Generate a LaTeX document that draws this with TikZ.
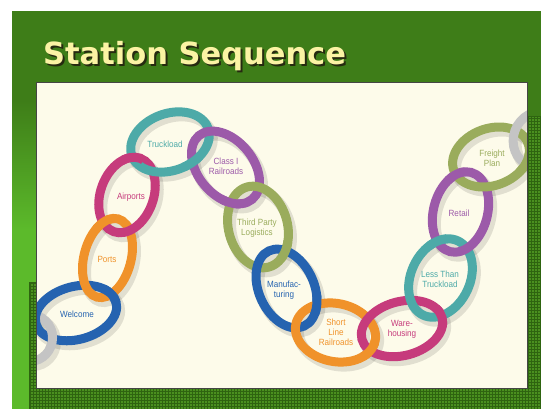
\documentclass[tikz,border=0pt]{standalone}
\usepackage{fontspec}
\usepackage{tikz}
\usetikzlibrary{intersections, patterns}
\newfontfamily\titlefont{DejaVu Sans}
\newfontfamily\linkfont[FakeStretch=0.9]{Liberation Sans}

\definecolor{slidegreen}{HTML}{3E7D18}
\definecolor{slidelime}{HTML}{5CBA2B}
\definecolor{slidetexture}{HTML}{4A901F}
\definecolor{slideedge}{HTML}{2E6410}
\definecolor{panelcream}{HTML}{FDFBEA}
\definecolor{panelborder}{HTML}{454545}
\definecolor{titleyellow}{HTML}{FBF3A4}
\definecolor{titleshadow}{HTML}{262A10}
\definecolor{linkblue}{HTML}{2563B0}
\definecolor{linkorange}{HTML}{F0922A}
\definecolor{linkmagenta}{HTML}{C63B7C}
\definecolor{linkteal}{HTML}{4DAAA8}
\definecolor{linkpurple}{HTML}{9C5AA9}
\definecolor{linkolive}{HTML}{9AAC5C}
\definecolor{linkgray}{HTML}{C4C4C4}

\begin{document}
\begin{tikzpicture}[x=1pt, y=-1pt,
    link/.style={line width=9pt},
    linkshade/.style={line width=11pt, black, opacity=0.11, shift={(3,4)}},
    linklabel/.style={font=\linkfont\fontsize{9}{10}\selectfont, align=center, inner sep=0pt},
    titletext/.style={font=\titlefont\bfseries\fontsize{30.5}{36}\selectfont, anchor=base west, inner sep=0pt}]
  \useasboundingbox (0,0) rectangle (541,409);

  % slide background
  \fill[white] (0,0) rectangle (541,409);
  \fill[slidegreen] (12,11) rectangle (541,409);
  \shade[top color=slidegreen, bottom color=slidelime] (12,100) rectangle (37,230);
  \fill[slidelime] (12,230) rectangle (37,409);

  % textured strips
  \fill[slidetexture] (30,283) rectangle (541,409);
  \fill[slidetexture] (527,117) rectangle (541,409);
  \fill[pattern=grid, pattern color=slideedge, fill opacity=0.22] (30,283) rectangle (541,409);
  \fill[pattern=grid, pattern color=slideedge, fill opacity=0.22] (527,117) rectangle (541,283);
  \draw[slideedge, line width=1.5pt] (30,409) -- (30,283) -- (40,283);
  \draw[slideedge, line width=1pt] (527,117) -- (541,117);

  % title with its drop shadow
  \node[titletext] (title) at (43,65)
    {\makebox[0pt][l]{\hspace{2pt}\raisebox{-2pt}{\textcolor{titleshadow}{Station Sequence}}}\textcolor{titleyellow}{Station Sequence}};

  % panel
  \fill[panelcream] (36.5,82.5) rectangle (527.5,388.5);

  \begin{scope}
    \clip (36.5,82.5) rectangle (527.5,388.5);

    % shadows of the links
    \draw[linkshade, rotate around={-10:(30,338)}] (30,338) ellipse [x radius=22.5, y radius=23.5];
    \draw[linkshade, rotate around={15:(76,313)}] (76,313) ellipse [x radius=41.5, y radius=26.5];
    \draw[linkshade, rotate around={-15:(107.5,258)}] (107.5,258) ellipse [x radius=23.5, y radius=40.5];
    \draw[linkshade, rotate around={-20:(127,195)}] (127,195) ellipse [x radius=26.5, y radius=39];
    \draw[linkshade, rotate around={20:(170,142)}] (170,142) ellipse [x radius=40.5, y radius=28.5];
    \draw[linkshade, rotate around={-50:(225.5,167.5)}] (225.5,167.5) ellipse [x radius=41.5, y radius=27.5];
    \draw[linkshade, rotate around={15:(258,227)}] (258,227) ellipse [x radius=29.5, y radius=41.5];
    \draw[linkshade, rotate around={25:(286.5,288.5)}] (286.5,288.5) ellipse [x radius=27.5, y radius=41.5];
    \draw[linkshade, rotate around={-12:(335.5,332.5)}] (335.5,332.5) ellipse [x radius=40.5, y radius=29];
    \draw[linkshade, rotate around={15:(402,328.5)}] (402,328.5) ellipse [x radius=41.5, y radius=27];
    \draw[linkshade, rotate around={-25:(440.5,278)}] (440.5,278) ellipse [x radius=29.5, y radius=41];
    \draw[linkshade, rotate around={-15:(460.5,212)}] (460.5,212) ellipse [x radius=27, y radius=41];
    \draw[linkshade, rotate around={20:(491,157)}] (491,157) ellipse [x radius=39.5, y radius=28.5];
    \draw[linkshade, rotate around={-20:(538,139)}] (538,139) ellipse [x radius=24.5, y radius=27.5];

    % links of the chain
    \draw[link, linkgray, rotate around={-10:(30,338)}, name path global=grayone] (30,338) ellipse [x radius=22.5, y radius=23.5];
    \draw[link, linkblue, rotate around={15:(76,313)}, name path global=welcome] (76,313) ellipse [x radius=41.5, y radius=26.5];
    \draw[link, linkorange, rotate around={-15:(107.5,258)}, name path global=ports] (107.5,258) ellipse [x radius=23.5, y radius=40.5];
    \draw[link, linkmagenta, rotate around={-20:(127,195)}, name path global=airports] (127,195) ellipse [x radius=26.5, y radius=39];
    \draw[link, linkteal, rotate around={20:(170,142)}, name path global=truckload] (170,142) ellipse [x radius=40.5, y radius=28.5];
    \draw[link, linkpurple, rotate around={-50:(225.5,167.5)}, name path global=classone] (225.5,167.5) ellipse [x radius=41.5, y radius=27.5];
    \draw[link, linkolive, rotate around={15:(258,227)}, name path global=thirdparty] (258,227) ellipse [x radius=29.5, y radius=41.5];
    \draw[link, linkblue, rotate around={25:(286.5,288.5)}, name path global=manufacturing] (286.5,288.5) ellipse [x radius=27.5, y radius=41.5];
    \draw[link, linkorange, rotate around={-12:(335.5,332.5)}, name path global=shortline] (335.5,332.5) ellipse [x radius=40.5, y radius=29];
    \draw[link, linkmagenta, rotate around={15:(402,328.5)}, name path global=warehousing] (402,328.5) ellipse [x radius=41.5, y radius=27];
    \draw[link, linkteal, rotate around={-25:(440.5,278)}, name path global=lessthan] (440.5,278) ellipse [x radius=29.5, y radius=41];
    \draw[link, linkpurple, rotate around={-15:(460.5,212)}, name path global=retail] (460.5,212) ellipse [x radius=27, y radius=41];
    \draw[link, linkolive, rotate around={20:(491,157)}, name path global=freight] (491,157) ellipse [x radius=39.5, y radius=28.5];
    \draw[link, linkgray, rotate around={-20:(538,139)}, name path global=graytwo] (538,139) ellipse [x radius=24.5, y radius=27.5];

    % interlocking: each link passes over its successor once
    \path[name intersections={of=grayone and welcome, by=gw}];
    \begin{scope}
      \clip (gw) circle (11);
      \draw[link, linkgray, rotate around={-10:(30,338)}] (30,338) ellipse [x radius=22.5, y radius=23.5];
    \end{scope}
    \path[name intersections={of=welcome and ports, by=wp}];
    \begin{scope}
      \clip (wp) circle (11);
      \draw[link, linkblue, rotate around={15:(76,313)}] (76,313) ellipse [x radius=41.5, y radius=26.5];
    \end{scope}
    \path[name intersections={of=ports and airports, by=pa}];
    \begin{scope}
      \clip (pa) circle (11);
      \draw[link, linkorange, rotate around={-15:(107.5,258)}] (107.5,258) ellipse [x radius=23.5, y radius=40.5];
    \end{scope}
    \path[name intersections={of=airports and truckload, by=at}];
    \begin{scope}
      \clip (at) circle (11);
      \draw[link, linkmagenta, rotate around={-20:(127,195)}] (127,195) ellipse [x radius=26.5, y radius=39];
    \end{scope}
    \path[name intersections={of=truckload and classone, by=tc}];
    \begin{scope}
      \clip (tc) circle (11);
      \draw[link, linkteal, rotate around={20:(170,142)}] (170,142) ellipse [x radius=40.5, y radius=28.5];
    \end{scope}
    \path[name intersections={of=classone and thirdparty, by=ct}];
    \begin{scope}
      \clip (ct) circle (11);
      \draw[link, linkpurple, rotate around={-50:(225.5,167.5)}] (225.5,167.5) ellipse [x radius=41.5, y radius=27.5];
    \end{scope}
    \path[name intersections={of=thirdparty and manufacturing, by=tm}];
    \begin{scope}
      \clip (tm) circle (11);
      \draw[link, linkolive, rotate around={15:(258,227)}] (258,227) ellipse [x radius=29.5, y radius=41.5];
    \end{scope}
    \path[name intersections={of=manufacturing and shortline, by=ms}];
    \begin{scope}
      \clip (ms) circle (11);
      \draw[link, linkblue, rotate around={25:(286.5,288.5)}] (286.5,288.5) ellipse [x radius=27.5, y radius=41.5];
    \end{scope}
    \path[name intersections={of=shortline and warehousing, by=sw}];
    \begin{scope}
      \clip (sw) circle (11);
      \draw[link, linkorange, rotate around={-12:(335.5,332.5)}] (335.5,332.5) ellipse [x radius=40.5, y radius=29];
    \end{scope}
    \path[name intersections={of=warehousing and lessthan, by=wl}];
    \begin{scope}
      \clip (wl) circle (11);
      \draw[link, linkmagenta, rotate around={15:(402,328.5)}] (402,328.5) ellipse [x radius=41.5, y radius=27];
    \end{scope}
    \path[name intersections={of=lessthan and retail, by=lr}];
    \begin{scope}
      \clip (lr) circle (11);
      \draw[link, linkteal, rotate around={-25:(440.5,278)}] (440.5,278) ellipse [x radius=29.5, y radius=41];
    \end{scope}
    \path[name intersections={of=retail and freight, by=rf}];
    \begin{scope}
      \clip (rf) circle (11);
      \draw[link, linkpurple, rotate around={-15:(460.5,212)}] (460.5,212) ellipse [x radius=27, y radius=41];
    \end{scope}
    \path[name intersections={of=freight and graytwo, by=fg}];
    \begin{scope}
      \clip (fg) circle (11);
      \draw[link, linkolive, rotate around={20:(491,157)}] (491,157) ellipse [x radius=39.5, y radius=28.5];
    \end{scope}
  \end{scope}

  % panel frame
  \draw[panelborder, line width=1.5pt] (36.5,82.5) rectangle (527.5,388.5);

  % station labels
  \node[linklabel, text=linkblue] (welcomelabel) at (77,314) {Welcome};
  \node[linklabel, text=linkorange] (portslabel) at (107,259) {Ports};
  \node[linklabel, text=linkmagenta] (airportslabel) at (131,197) {Airports};
  \node[linklabel, text=linkteal] (truckloadlabel) at (165,144) {Truckload};
  \node[linklabel, text=linkpurple] (classonelabel) at (226,166) {Class I\\Railroads};
  \node[linklabel, text=linkolive] (thirdpartylabel) at (257,228) {Third Party\\Logistics};
  \node[linklabel, text=linkblue] (manufacturinglabel) at (284,290) {Manufac-\\turing};
  \node[linklabel, text=linkorange] (shortlinelabel) at (336,332) {Short\\Line\\Railroads};
  \node[linklabel, text=linkmagenta] (warehousinglabel) at (402,329) {Ware-\\housing};
  \node[linklabel, text=linkteal] (lessthanlabel) at (440,279) {Less Than\\Truckload};
  \node[linklabel, text=linkpurple] (retaillabel) at (459,213) {Retail};
  \node[linklabel, text=linkolive] (freightlabel) at (492,158) {Freight\\Plan};
\end{tikzpicture}
\end{document}
